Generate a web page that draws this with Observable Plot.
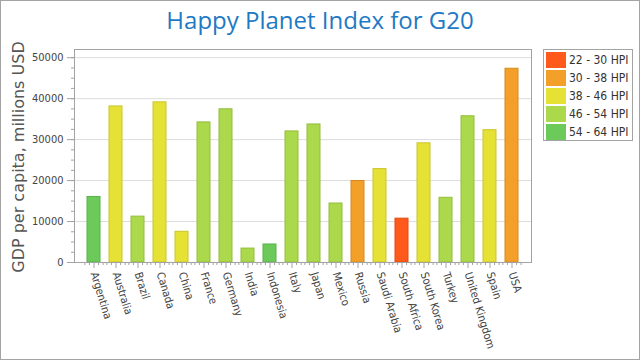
<!DOCTYPE html>
<html>
<head>
<meta charset="utf-8">
<script src="https://cdn.jsdelivr.net/npm/d3@7"></script>
<script src="https://cdn.jsdelivr.net/npm/@observablehq/plot@0.6"></script>
<style>
  html, body { margin: 0; padding: 0; background: #fff; }
  #wrap { position: relative; width: 640px; height: 360px; overflow: hidden; background: #fff; }
  #border { position: absolute; left: 0; top: 0; width: 640px; height: 360px; box-sizing: border-box; border: 1px solid #a3a3a3; pointer-events: none; }
  #title { position: absolute; left: 0; top: 5px; width: 640px; text-align: center; font-family: "Open Sans", "Noto Sans", sans-serif; font-size: 24px; line-height: 30px; color: #1f79c4; }
  #ytitle { position: absolute; left: 18px; top: 157px; transform: translate(-50%, -50%) rotate(-90deg); white-space: nowrap; font-family: "DejaVu Sans", sans-serif; font-size: 16px; color: #555; }
  #legend { position: absolute; left: 543px; top: 49px; width: 90px; height: 92px; box-sizing: border-box; border: 1px solid #a3a3a3; background: #fff; font-family: "DejaVu Sans Condensed", "DejaVu Sans", sans-serif; font-size: 12px; color: #333; }
  .row { position: absolute; left: 1px; height: 16px; }
  .sw { position: absolute; left: 1px; top: 0; width: 20px; height: 16px; }
  .lb { position: absolute; left: 24px; top: 0; line-height: 16px; white-space: nowrap; }
  svg { position: absolute; left: 0; top: 0; }
</style>
</head>
<body>
<div id="wrap">
  <div id="title">Happy Planet Index for G20</div>
  <div id="ytitle">GDP per capita, millions USD</div>
  <div id="legend"></div>
  <div id="border"></div>
</div>
<script>
const countries = ["Argentina","Australia","Brazil","Canada","China","France","Germany","India","Indonesia","Italy","Japan","Mexico","Russia","Saudi Arabia","South Africa","South Korea","Turkey","United Kingdom","Spain","USA"];
const gdp = [16000,38100,11200,39100,7500,34200,37400,3400,4400,32000,33700,14400,19900,22800,10700,29100,15800,35700,32300,47300];
const hpiBand = ["54 - 64 HPI","38 - 46 HPI","46 - 54 HPI","38 - 46 HPI","38 - 46 HPI","46 - 54 HPI","46 - 54 HPI","46 - 54 HPI","54 - 64 HPI","46 - 54 HPI","46 - 54 HPI","46 - 54 HPI","30 - 38 HPI","38 - 46 HPI","22 - 30 HPI","38 - 46 HPI","46 - 54 HPI","46 - 54 HPI","38 - 46 HPI","30 - 38 HPI"];
const bands = ["22 - 30 HPI","30 - 38 HPI","38 - 46 HPI","46 - 54 HPI","54 - 64 HPI"];
const bandFill = ["#ff5a1b","#f3a02a","#e5e235","#acd84b","#6cca5b"];
const bandStroke = ["#e2490f","#d8891c","#c9c52a","#93be3a","#58b249"];
const yTicks = [0,10000,20000,30000,40000,50000];
const yMinor = d3.range(0, 52001, 2500);

const data = countries.map((c, i) => ({country: c, gdp: gdp[i], band: hpiBand[i]}));
const fillOf = d => bandFill[bands.indexOf(d.band)];
const strokeOf = d => bandStroke[bands.indexOf(d.band)];

const step = (640 - 74 - 109) / countries.length;
const minorOffsets = [-2, -1, 1, 2].map(k => k * step / 5);

const font = '"DejaVu Sans Condensed", "DejaVu Sans", sans-serif';
const chart = Plot.plot({
  width: 640, height: 360,
  marginLeft: 74, marginRight: 109, marginTop: 49, marginBottom: 98,
  style: {fontFamily: font, fontSize: "11px", color: "#444", background: "transparent"},
  x: {domain: countries, padding: 0.4, label: null},
  y: {domain: [0, 52000], label: null},
  color: {type: "identity"},
  marks: [
    Plot.gridY(yTicks, {stroke: "#dcdcdc", strokeOpacity: 1}),
    Plot.frame({stroke: "#a3a3a3"}),
    Plot.barY(data, {x: "country", y: "gdp", fill: fillOf, stroke: strokeOf, strokeWidth: 1}),
    Plot.axisY(yMinor, {tickSize: 3, text: null, stroke: "#a3a3a3"}),
    Plot.axisY(yTicks, {tickSize: 7, tickPadding: 4, stroke: "#a3a3a3", label: null, fill: "#444", tickFormat: d => String(d)}),
    ...minorOffsets.map(o => Plot.axisX({tickSize: 3, text: null, dx: o, stroke: "#a3a3a3"})),
    Plot.axisX({tickSize: 6, tickPadding: 4, tickRotate: 73, label: null, stroke: "#a3a3a3", fill: "#444"}),
    Plot.ruleY([0], {stroke: "#a3a3a3"})
  ]
});
document.getElementById("wrap").insertBefore(chart, document.getElementById("legend"));

const legend = document.getElementById("legend");
bands.forEach((b, i) => {
  const row = document.createElement("div");
  row.className = "row";
  row.style.top = (2 + i * 18) + "px";
  row.innerHTML = `<div class="sw" style="background:${bandFill[i]}"></div><div class="lb">${b}</div>`;
  legend.appendChild(row);
});
</script>
</body>
</html>
